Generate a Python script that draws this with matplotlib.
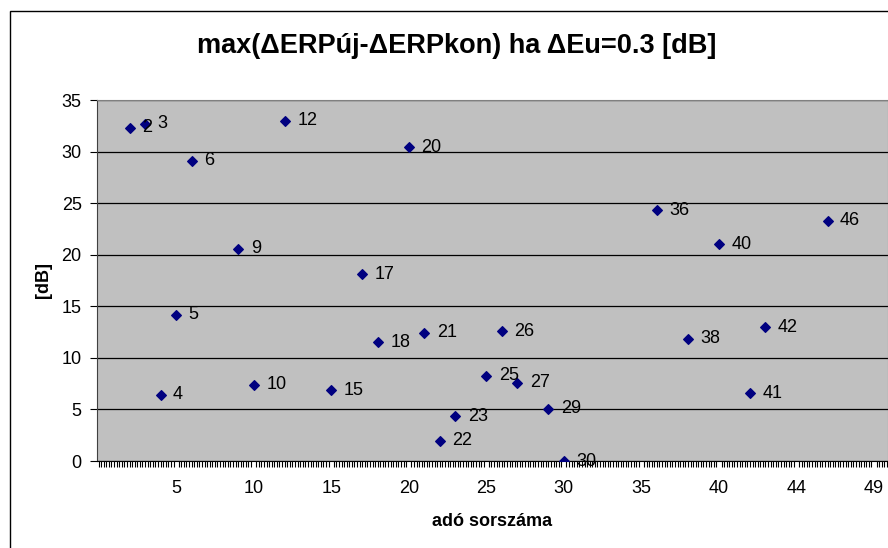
import numpy as np
import matplotlib
matplotlib.use("Agg")
import matplotlib.pyplot as plt
from matplotlib.patches import Rectangle

plt.rcParams['font.family'] = ['Liberation Sans', 'DejaVu Sans']

# category position on the x axis and the number written next to each point
pos = [2, 3, 4, 5, 6, 9, 10, 12, 15, 17, 18, 20, 21, 22, 23, 25, 26, 27, 29, 30,
       36, 38, 40, 42, 43, 47]
adok = ['2', '3', '4', '5', '6', '9', '10', '12', '15', '17', '18', '20', '21', '22', '23',
        '25', '26', '27', '29', '30', '36', '38', '40', '41', '42', '46']
dB = [32.3, 32.7, 6.4, 14.2, 29.1, 20.6, 7.4, 33.0, 6.85, 18.1, 11.5, 30.4, 12.45, 1.95,
      4.35, 8.25, 12.6, 7.6, 5.05, 0.0, 24.3, 11.85, 21.0, 6.55, 12.95, 23.3]

tick_pos = [5, 10, 15, 20, 25, 30, 35, 40, 45, 50]
tick_labels = ['5', '10', '15', '20', '25', '30', '35', '40', '44', '49']

fig = plt.figure(figsize=(8.88, 5.48), dpi=100)
W, H = 888, 548

# chart border
fig.patches.append(Rectangle((10 / W, -0.05), 1.2, (H - 11) / H + 0.05,
                             transform=fig.transFigure, fill=False,
                             edgecolor='black', linewidth=1.0))

ax = fig.add_axes([97 / W, 87 / H, 1 - 97 / W, (461 - 100) / H])
ax.set_facecolor('#C0C0C0')

ax.scatter(pos, dB, marker='D', s=24, color='#000080', zorder=3)
for x, y, t in zip(pos, dB, adok):
    ax.annotate(t, (x, y), xytext=(9, 0), textcoords='offset points',
                va='center', ha='left', fontsize=13, zorder=4)

ax.set_xlim(-0.1, 50.9)
ax.set_ylim(0, 35)
ax.set_yticks(range(0, 36, 5))
ax.yaxis.grid(True, color='black', linewidth=0.9)
ax.set_axisbelow(True)

ax.set_xticks(tick_pos)
ax.set_xticklabels(tick_labels)
ax.set_xticks(np.arange(0, 51, 1 / 6), minor=True)
ax.tick_params(axis='x', which='major', length=0, pad=14, labelsize=13)
ax.tick_params(axis='x', which='minor', length=4, width=0.8, direction='out')
ax.tick_params(axis='y', length=5, width=0.8, direction='out', labelsize=13, pad=6)

for s in ['top', 'right']:
    ax.spines[s].set_color('#808080')
ax.spines['left'].set_color('#404040')
ax.spines['bottom'].set_color('black')

ax.set_xlabel('adó sorszáma', fontsize=13, fontweight='bold', labelpad=11)
ax.set_ylabel('[dB]', fontsize=13, fontweight='bold', labelpad=7)

fig.text(457 / W, 1 - 46 / H, 'max(ΔERPúj-ΔERPkon) ha ΔEu=0.3 [dB]',
         ha='center', va='center', fontsize=19.5, fontweight='bold')

fig.savefig('out.png', dpi=100)
